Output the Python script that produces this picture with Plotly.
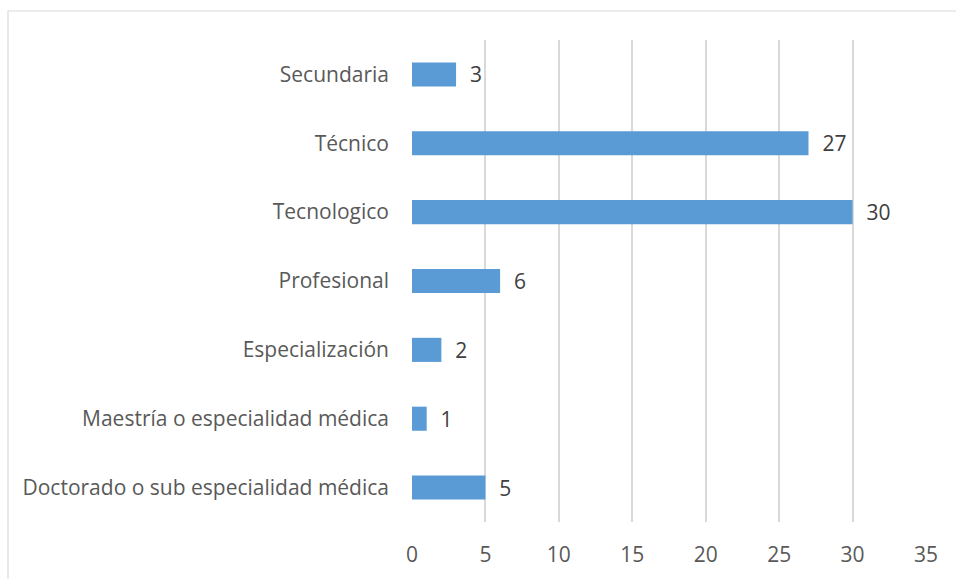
import plotly.graph_objects as go

categories = ["Secundaria", "Técnico", "Tecnologico", "Profesional", "Especialización",
              "Maestría o especialidad médica", "Doctorado o sub especialidad médica"]
values = [3, 27, 30, 6, 2, 1, 5]
x_ticks = [0, 5, 10, 15, 20, 25, 30, 35]

W, H = 956, 579
L, R, T, B = 412, 30, 40, 57
pw, ph = W - L - R, H - T - B
FONT = "Open Sans"
FS = 21

fig = go.Figure(go.Bar(
    y=categories, x=values, orientation="h",
    marker=dict(color="#5b9bd5", line=dict(width=0)),
    text=values, texttemplate="  %{text}", textposition="outside",
    constraintext="none",
    textfont=dict(family=FONT, size=FS, color="#404040"),
    cliponaxis=False,
))

fig.update_layout(
    width=W, height=H,
    margin=dict(l=L, r=R, t=T, b=B),
    paper_bgcolor="white", plot_bgcolor="white",
    bargap=0.65,
    showlegend=False,
    font=dict(family=FONT, size=FS, color="#595959"),
    xaxis=dict(range=[0, 35], tickvals=x_ticks, showgrid=True, gridcolor="#d9d9d9",
               gridwidth=1.5, zeroline=False, showline=False, ticks="",
               tickfont=dict(size=FS, color="#595959"), ticklabelstandoff=18),
    yaxis=dict(categoryorder="array", categoryarray=categories[::-1], showgrid=False,
               zeroline=False, showline=False, ticks="", ticklabelstandoff=22,
               tickfont=dict(size=FS, color="#595959")),
    shapes=[dict(type="rect", xref="paper", yref="paper",
                 x0=(8 - L) / pw, x1=(W + 5 - L) / pw,
                 y0=-(H + 5 - (H - B)) / ph, y1=(H - B - 11) / ph,
                 line=dict(color="#d9d9d9", width=1.2), fillcolor="rgba(0,0,0,0)", layer="below")],
)

fig.write_html("out.html", config={"displayModeBar": False},
               post_script="document.body.style.margin='0';document.body.style.overflow='hidden';")
